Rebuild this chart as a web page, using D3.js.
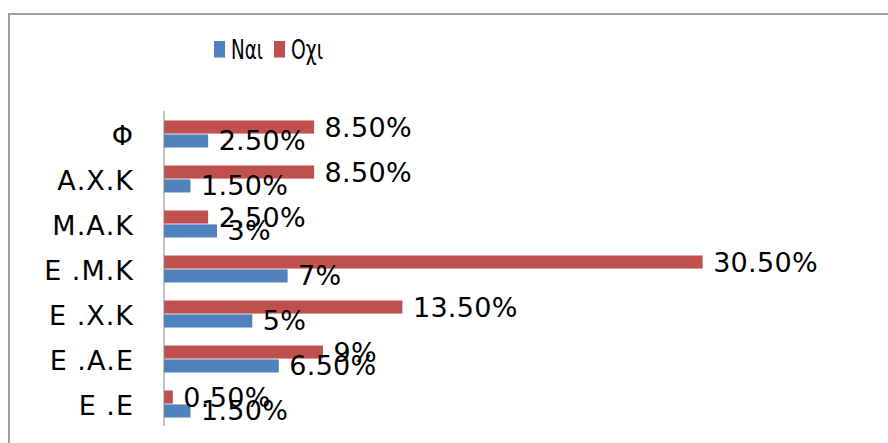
<!DOCTYPE html>
<html>
<head>
<meta charset="utf-8">
<script src="https://cdn.jsdelivr.net/npm/d3@7"></script>
<style>
  body { margin: 0; background: #fff; }
  text { font-family: "DejaVu Sans", sans-serif; fill: #000; }
</style>
</head>
<body>
<div id="chart"></div>
<script>
var categories = ["Φ", "Α.Χ.Κ", "Μ.Α.Κ", "Ε .Μ.Κ", "Ε .Χ.Κ", "Ε .Α.Ε", "Ε .Ε"];
var seriesNames = ["Ναι", "Οχι"];
var naiValues = [2.5, 1.5, 3, 7, 5, 6.5, 1.5];
var oxiValues = [8.5, 8.5, 2.5, 30.5, 13.5, 9, 0.5];
var colors = {"Ναι": "#4F81BD", "Οχι": "#C0504D"};

var width = 888, height = 443;
var axisX = 164;

var svg = d3.select("#chart").append("svg")
    .attr("width", width)
    .attr("height", height);

// chart frame (right and bottom edges fall outside the picture)
svg.append("rect")
    .attr("x", 9).attr("y", 14)
    .attr("width", 900).attr("height", 460)
    .attr("fill", "none")
    .attr("stroke", "#a0a0a0")
    .attr("stroke-width", 2);

var x = d3.scaleLinear()
    .domain([0, 35])
    .range([axisX, axisX + 35 * 17.66]);

var y0 = d3.scaleBand()
    .domain(categories)
    .range([111.5, 426.5])
    .paddingInner(0.4)
    .paddingOuter(0.2);

var y1 = d3.scaleBand()
    .domain(["Οχι", "Ναι"])
    .range([0, y0.bandwidth()])
    .paddingInner(0.06);

var rows = categories.map(function(c, i) {
    return {cat: c, values: [
        {name: "Οχι", value: oxiValues[i]},
        {name: "Ναι", value: naiValues[i]}
    ]};
});

function fmt(v) {
    return (v % 1 === 0 ? v : v.toFixed(2)) + "%";
}

var groups = svg.selectAll(".cat")
    .data(rows)
    .enter().append("g")
    .attr("class", "cat")
    .attr("transform", function(d) { return "translate(0," + y0(d.cat) + ")"; });

groups.selectAll("rect")
    .data(function(d) { return d.values; })
    .enter().append("rect")
    .attr("x", x(0))
    .attr("y", function(d) { return y1(d.name); })
    .attr("width", function(d) { return x(d.value) - x(0); })
    .attr("height", y1.bandwidth())
    .attr("fill", function(d) { return colors[d.name]; });

groups.selectAll(".val")
    .data(function(d) { return d.values; })
    .enter().append("text")
    .attr("class", "val")
    .attr("x", function(d) { return x(d.value) + 10.5; })
    .attr("y", function(d) { return y1(d.name) + y1.bandwidth() / 2 + 9.5; })
    .attr("font-size", 27)
    .attr("letter-spacing", 0.3)
    .text(function(d) { return fmt(d.value); });

// category axis
svg.append("line")
    .attr("x1", axisX).attr("x2", axisX)
    .attr("y1", 111).attr("y2", 426)
    .attr("stroke", "#868686")
    .attr("stroke-width", 1);

svg.selectAll(".catlabel")
    .data(categories)
    .enter().append("text")
    .attr("class", "catlabel")
    .attr("x", 134)
    .attr("y", function(d) { return y0(d) + y0.bandwidth() / 2 + 11; })
    .attr("text-anchor", "end")
    .attr("font-size", 27)
    .attr("letter-spacing", 1)
    .text(function(d) { return d; });

// legend
var legendItems = [
    {name: "Ναι", x: 214, tx: 231},
    {name: "Οχι", x: 274, tx: 291}
];
var legend = svg.selectAll(".legend")
    .data(legendItems)
    .enter().append("g")
    .attr("class", "legend");

legend.append("rect")
    .attr("x", function(d) { return d.x; })
    .attr("y", 41)
    .attr("width", 11)
    .attr("height", 16.5)
    .attr("fill", function(d) { return colors[d.name]; });

legend.append("text")
    .attr("x", function(d) { return d.tx; })
    .attr("y", 59)
    .attr("font-size", 27)
    .attr("textLength", 32)
    .attr("lengthAdjust", "spacingAndGlyphs")
    .text(function(d) { return d.name; });
</script>
</body>
</html>
